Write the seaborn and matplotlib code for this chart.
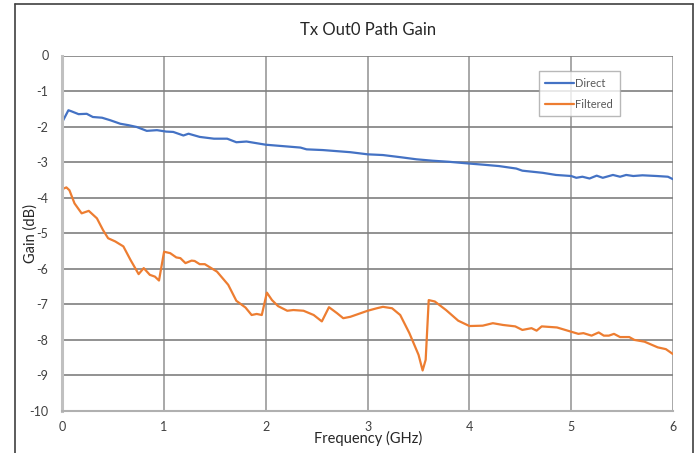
import matplotlib
matplotlib.use("Agg")
import matplotlib.pyplot as plt
from matplotlib.lines import Line2D
import seaborn as sns
import pandas as pd

direct_freq = [0.0, 0.06, 0.09, 0.16, 0.24, 0.30, 0.39, 0.47, 0.57, 0.65, 0.73, 0.83, 0.93, 1.02,
               1.09, 1.19, 1.24, 1.35, 1.49, 1.62, 1.71, 1.81, 2.0, 2.17, 2.34, 2.40, 2.56, 2.83,
               3.0, 3.15, 3.32, 3.48, 3.64, 3.80, 4.0, 4.13, 4.29, 4.46, 4.52, 4.62, 4.72, 4.85,
               5.0, 5.05, 5.11, 5.18, 5.25, 5.31, 5.41, 5.48, 5.54, 5.61, 5.70, 5.84, 5.95, 6.0]
direct_gain = [-1.87, -1.54, -1.57, -1.65, -1.64, -1.73, -1.75, -1.82, -1.92, -1.96, -2.01, -2.12,
               -2.10, -2.14, -2.15, -2.25, -2.20, -2.29, -2.34, -2.34, -2.44, -2.42, -2.51, -2.55,
               -2.59, -2.64, -2.66, -2.72, -2.78, -2.80, -2.86, -2.92, -2.96, -2.99, -3.04, -3.07,
               -3.11, -3.18, -3.24, -3.27, -3.30, -3.36, -3.39, -3.44, -3.41, -3.46, -3.38, -3.44,
               -3.36, -3.41, -3.36, -3.39, -3.37, -3.39, -3.41, -3.48]

filt_freq = [0.0, 0.04, 0.07, 0.12, 0.19, 0.26, 0.34, 0.40, 0.45, 0.52, 0.60, 0.67, 0.75, 0.80,
             0.86, 0.91, 0.95, 1.0, 1.06, 1.12, 1.16, 1.21, 1.27, 1.30, 1.35, 1.40, 1.52, 1.63,
             1.71, 1.80, 1.86, 1.91, 1.96, 2.01, 2.06, 2.12, 2.21, 2.27, 2.37, 2.47, 2.55, 2.62,
             2.70, 2.76, 2.83, 2.93, 3.0, 3.09, 3.15, 3.24, 3.32, 3.41, 3.50, 3.54, 3.57, 3.60,
             3.66, 3.77, 3.89, 4.0, 4.13, 4.23, 4.33, 4.45, 4.52, 4.61, 4.66, 4.71, 4.86, 5.0,
             5.07, 5.12, 5.20, 5.27, 5.32, 5.37, 5.42, 5.48, 5.57, 5.62, 5.72, 5.85, 5.93, 6.0]
filt_gain = [-3.76, -3.71, -3.79, -4.16, -4.44, -4.37, -4.58, -4.91, -5.14, -5.23, -5.37, -5.75,
             -6.15, -5.98, -6.17, -6.22, -6.33, -5.52, -5.56, -5.68, -5.70, -5.84, -5.77, -5.78,
             -5.87, -5.87, -6.08, -6.45, -6.90, -7.09, -7.30, -7.27, -7.30, -6.67, -6.88, -7.05,
             -7.18, -7.16, -7.18, -7.30, -7.48, -7.08, -7.25, -7.39, -7.35, -7.25, -7.18, -7.11,
             -7.07, -7.11, -7.30, -7.81, -8.42, -8.86, -8.56, -6.88, -6.92, -7.16, -7.46, -7.61,
             -7.60, -7.53, -7.58, -7.62, -7.72, -7.67, -7.74, -7.62, -7.65, -7.77, -7.83, -7.81,
             -7.88, -7.79, -7.88, -7.88, -7.83, -7.92, -7.92, -8.0, -8.05, -8.21, -8.26, -8.40]

series_names = ["Direct", "Filtered"]
x_ticks = [0, 1, 2, 3, 4, 5, 6]
y_ticks = [0, -1, -2, -3, -4, -5, -6, -7, -8, -9, -10]

df = pd.concat([
    pd.DataFrame({"Frequency": direct_freq, "Gain": direct_gain, "Series": series_names[0]}),
    pd.DataFrame({"Frequency": filt_freq, "Gain": filt_gain, "Series": series_names[1]}),
])

sns.set_theme(style="white")
plt.rcParams["font.family"] = ["Lato", "DejaVu Sans"]

fig = plt.figure(figsize=(6.96, 4.53), dpi=100)
ax = fig.add_axes([62.3 / 696, 1 - 411 / 453, (673 - 62.3) / 696, (411 - 55.5) / 453])

sns.lineplot(data=df, x="Frequency", y="Gain", hue="Series", sort=False,
             palette={"Direct": "#4472C4", "Filtered": "#ED7D31"}, linewidth=1.6, ax=ax,
             estimator=None)

ax.set_xlim(0, 6)
ax.set_ylim(-10, 0)
ax.set_xticks(x_ticks)
ax.set_yticks(y_ticks)
ax.set_xticklabels([str(t) for t in x_ticks])
ax.set_yticklabels([str(t) for t in y_ticks])
ax.grid(True, axis="y", color="#7f7f7f", linewidth=1.2)
ax.grid(True, axis="x", color="#9a9a9a", linewidth=1.2)
ax.set_axisbelow(True)
for s in ["top", "right"]:
    ax.spines[s].set_visible(False)
ax.spines["left"].set_color("#c0c0c0")
ax.spines["left"].set_linewidth(2.2)
ax.spines["bottom"].set_color("#b0b0b0")
ax.spines["bottom"].set_linewidth(1.5)
ax.tick_params(axis="both", length=0, labelsize=9, labelcolor="#404040")
ax.tick_params(axis="x", pad=7)
ax.tick_params(axis="y", pad=10)

ax.set_xlabel("Frequency (GHz)", fontsize=10.5, color="#262626", labelpad=-1)
ax.set_ylabel("Gain (dB)", fontsize=10.5, color="#262626", labelpad=-6)
ax.set_title("Tx Out0 Path Gain", fontsize=12, color="#262626", pad=15)

leg = ax.legend(loc="upper left", bbox_to_anchor=(0.78, 0.956), borderaxespad=0,
                frameon=True, fancybox=False, fontsize=8, handlelength=2.6,
                handletextpad=0.1, labelspacing=0.9, borderpad=0.6, title=None)
leg.get_frame().set_edgecolor("#a6a6a6")
leg.get_frame().set_linewidth(1.0)
for t in leg.get_texts():
    t.set_color("#595959")
for h in leg.get_lines():
    h.set_linewidth(1.6)

# outer chart border
bx0, bx1, by1 = 15 / 696, 693 / 696, 1 - 4 / 453
for xs, ys in [([bx0, bx0], [0, by1]), ([bx0, bx1], [by1, by1]), ([bx1, bx1], [by1, 0])]:
    fig.add_artist(Line2D(xs, ys, color="#404040", linewidth=1.2, transform=fig.transFigure))

fig.savefig("out.png", dpi=100)
